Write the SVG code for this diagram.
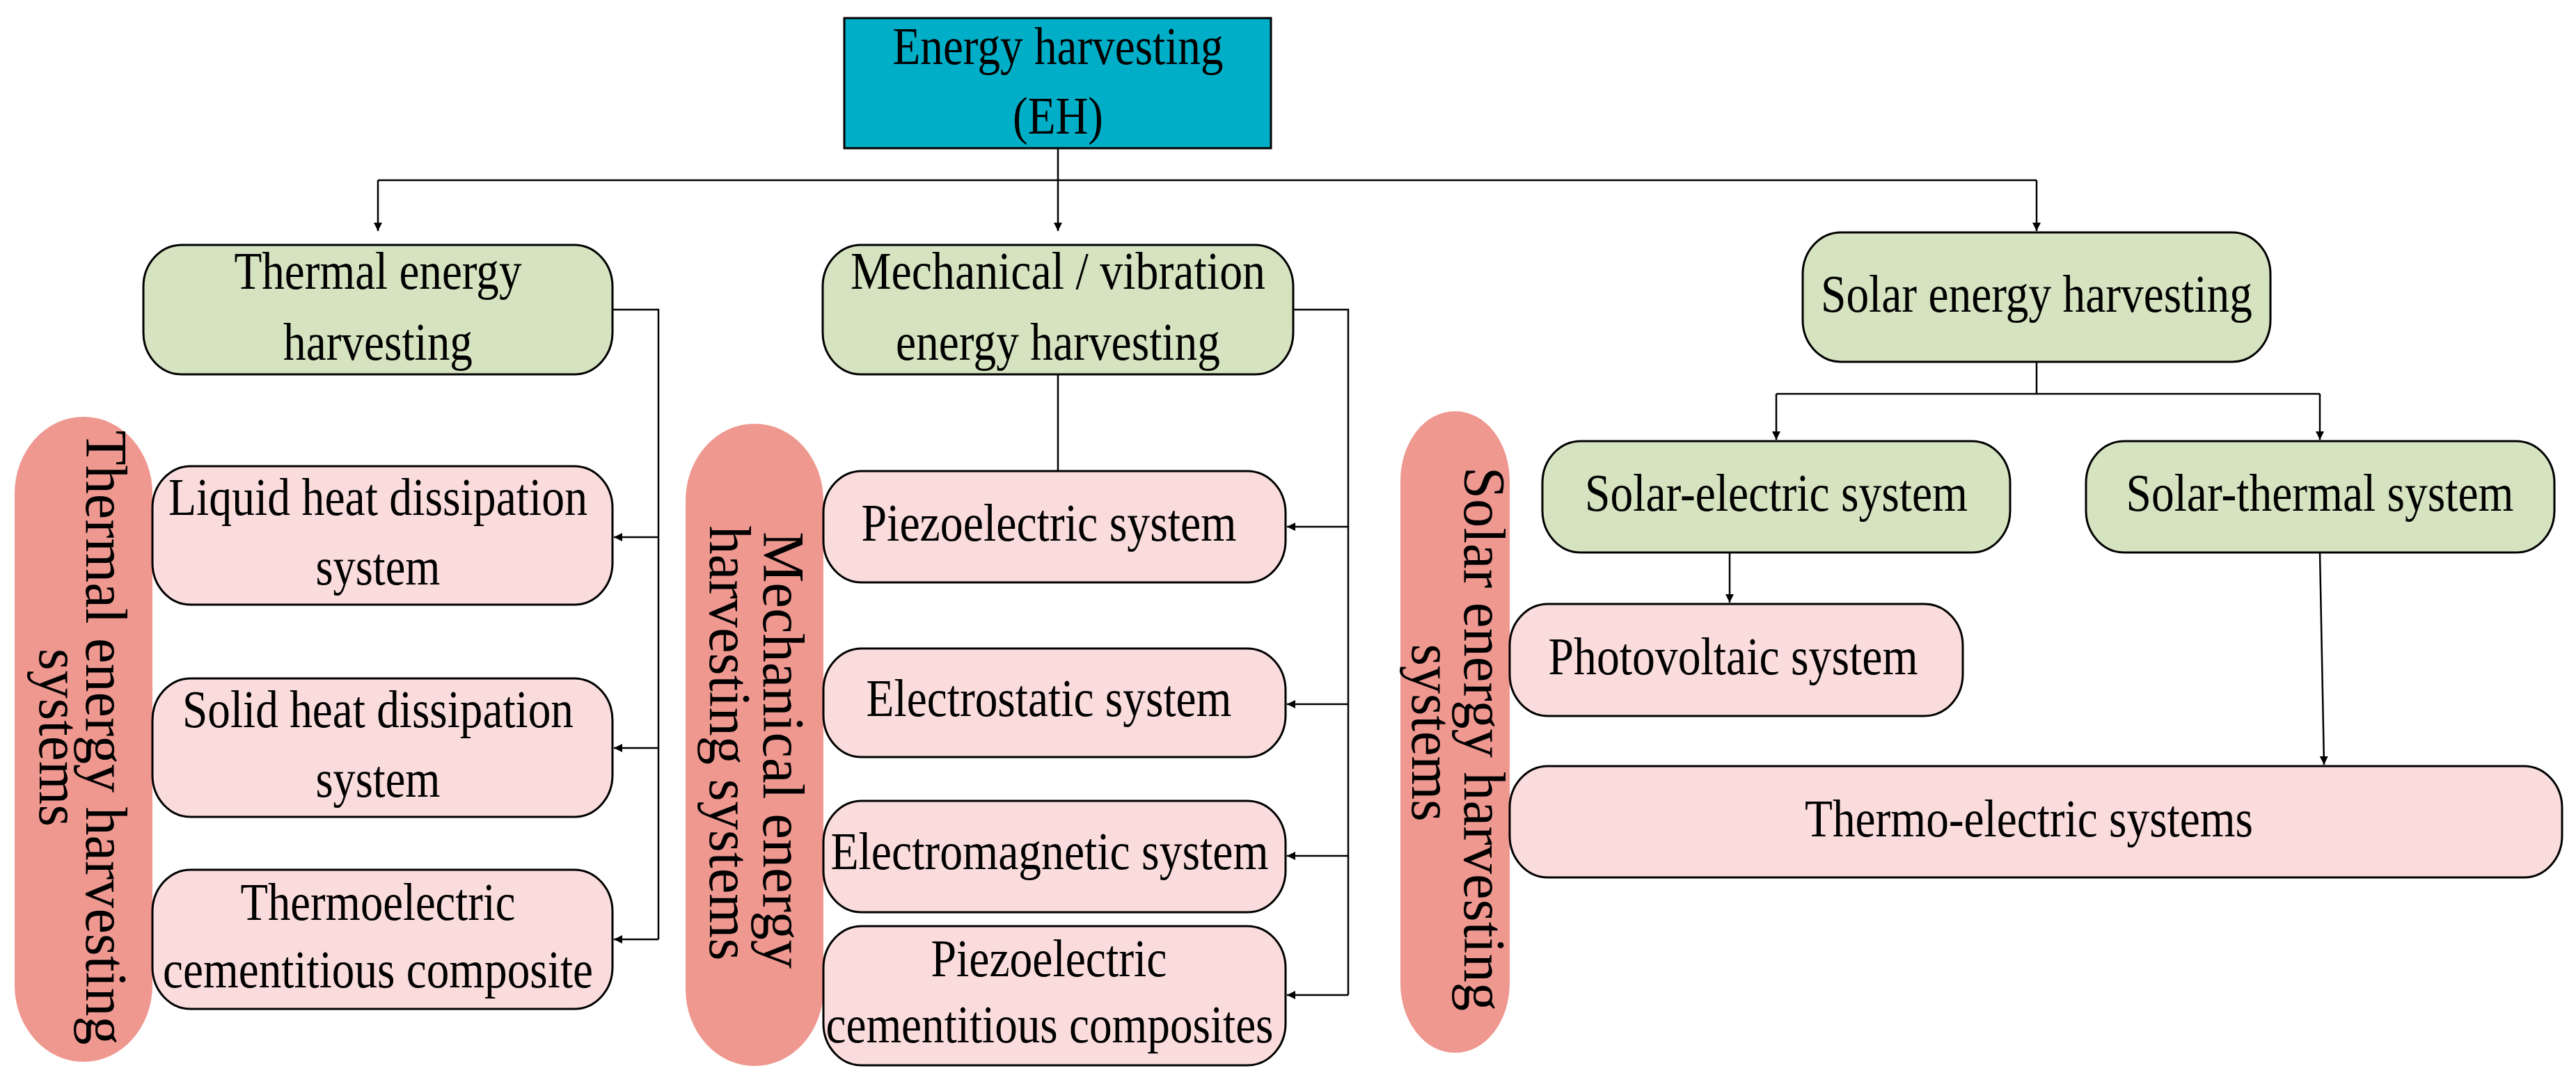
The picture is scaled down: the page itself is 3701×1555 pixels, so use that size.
<svg xmlns="http://www.w3.org/2000/svg" width="3701" height="1555" viewBox="0 0 3701 1555">
<defs>
<marker id="ar" viewBox="0 0 10 10" refX="10" refY="5" markerWidth="12" markerHeight="18" markerUnits="userSpaceOnUse" orient="auto"><path d="M0,0 L10,5 L0,10 Z" fill="#000"/></marker>
<style>
text{font-family:"Liberation Serif","Times New Roman",serif;fill:#000}
.h{font-size:76px;text-anchor:middle}
.v{font-size:84px;text-anchor:middle}
.g{fill:#D5E3C0;stroke:#000;stroke-width:3}
.p{fill:#F9DCDB;stroke:#000;stroke-width:3}
.t{fill:#EE9890}
.c{fill:none;stroke:#000;stroke-width:2.5}
.ca{fill:none;stroke:#000;stroke-width:2.5;marker-end:url(#ar)}
</style>
</defs>
<rect width="3701" height="1555" fill="#fff"/>
<g id="connectors">
<path class="c" d="M1520,213 V259 M543,259 H2926"/>
<path class="ca" d="M543,259 V332"/>
<path class="ca" d="M1520,259 V332"/>
<path class="ca" d="M2926,259 V332"/>
<path class="c" d="M880,445 H946 V1350"/>
<path class="ca" d="M946,772 H882"/>
<path class="ca" d="M946,1075 H882"/>
<path class="ca" d="M946,1350 H882"/>
<path class="c" d="M1520,538 V677"/>
<path class="c" d="M1858,445 H1937 V1430"/>
<path class="ca" d="M1937,757 H1849"/>
<path class="ca" d="M1937,1012 H1849"/>
<path class="ca" d="M1937,1230 H1849"/>
<path class="ca" d="M1937,1430 H1849"/>
<path class="c" d="M2926,520 V566 M2552,566 H3333"/>
<path class="ca" d="M2552,566 V632"/>
<path class="ca" d="M3333,566 V632"/>
<path class="ca" d="M2485,794 V866"/>
<path class="ca" d="M3333,794 L3339,1099"/>
</g>
<g id="eh"><rect x="1213" y="26" width="613" height="187" fill="#00AEC7" stroke="#000" stroke-width="3"/>
<text class="h" x="1520" y="92" textLength="475" lengthAdjust="spacingAndGlyphs">Energy harvesting</text>
<text class="h" x="1520" y="192" textLength="130" lengthAdjust="spacingAndGlyphs">(EH)</text></g>
<g id="thermal"><rect class="g" x="206" y="352" width="674" height="186" rx="55" ry="60"/>
<text class="h" x="543" y="415" textLength="413" lengthAdjust="spacingAndGlyphs">Thermal energy</text>
<text class="h" x="543" y="517" textLength="272" lengthAdjust="spacingAndGlyphs">harvesting</text></g>
<g id="mech"><rect class="g" x="1182" y="352" width="676" height="186" rx="55" ry="60"/>
<text class="h" x="1520" y="415" textLength="596" lengthAdjust="spacingAndGlyphs">Mechanical / vibration</text>
<text class="h" x="1520" y="517" textLength="466" lengthAdjust="spacingAndGlyphs">energy harvesting</text></g>
<g id="solar"><rect class="g" x="2590" y="334" width="672" height="186" rx="55" ry="60"/>
<text class="h" x="2926" y="448" textLength="620" lengthAdjust="spacingAndGlyphs">Solar energy harvesting</text></g>
<g id="tag-thermal"><rect class="t" x="21" y="599" width="198" height="927" rx="99" ry="110"/>
<text class="v" transform="translate(124,1060) rotate(90)" textLength="883" lengthAdjust="spacingAndGlyphs">Thermal energy harvesting</text>
<text class="v" transform="translate(57,1060) rotate(90)" textLength="256" lengthAdjust="spacingAndGlyphs">systems</text></g>
<g id="tag-mech"><rect class="t" x="985" y="609" width="198" height="923" rx="99" ry="110"/>
<text class="v" transform="translate(1097,1078) rotate(90)" textLength="628" lengthAdjust="spacingAndGlyphs">Mechanical energy</text>
<text class="v" transform="translate(1020,1068) rotate(90)" textLength="625" lengthAdjust="spacingAndGlyphs">harvesting systems</text></g>
<g id="tag-solar"><rect class="t" x="2012" y="591" width="157" height="922" rx="78" ry="100"/>
<text class="v" transform="translate(2104,1062) rotate(90)" textLength="782" lengthAdjust="spacingAndGlyphs">Solar energy harvesting</text>
<text class="v" transform="translate(2029,1053) rotate(90)" textLength="255" lengthAdjust="spacingAndGlyphs">systems</text></g>
<g id="liquid"><rect class="p" x="219" y="670" width="661" height="199" rx="55" ry="60"/>
<text class="h" x="543" y="740" textLength="602" lengthAdjust="spacingAndGlyphs">Liquid heat dissipation</text>
<text class="h" x="543" y="840" textLength="179" lengthAdjust="spacingAndGlyphs">system</text></g>
<g id="solid"><rect class="p" x="219" y="975" width="661" height="199" rx="55" ry="60"/>
<text class="h" x="543" y="1045" textLength="562" lengthAdjust="spacingAndGlyphs">Solid heat dissipation</text>
<text class="h" x="543" y="1145" textLength="179" lengthAdjust="spacingAndGlyphs">system</text></g>
<g id="thermoelectric"><rect class="p" x="219" y="1250" width="661" height="200" rx="55" ry="60"/>
<text class="h" x="543" y="1322" textLength="395" lengthAdjust="spacingAndGlyphs">Thermoelectric</text>
<text class="h" x="543" y="1419" textLength="618" lengthAdjust="spacingAndGlyphs">cementitious composite</text></g>
<g id="piezo"><rect class="p" x="1183" y="677" width="664" height="160" rx="55" ry="60"/>
<text class="h" x="1507" y="777" textLength="539" lengthAdjust="spacingAndGlyphs">Piezoelectric system</text></g>
<g id="electrostatic"><rect class="p" x="1183" y="932" width="664" height="156" rx="55" ry="60"/>
<text class="h" x="1507" y="1029" textLength="525" lengthAdjust="spacingAndGlyphs">Electrostatic system</text></g>
<g id="electromagnetic"><rect class="p" x="1183" y="1151" width="664" height="160" rx="55" ry="60"/>
<text class="h" x="1508" y="1249" textLength="629" lengthAdjust="spacingAndGlyphs">Electromagnetic system</text></g>
<g id="piezocomp"><rect class="p" x="1183" y="1331" width="664" height="200" rx="55" ry="60"/>
<text class="h" x="1507" y="1403" textLength="339" lengthAdjust="spacingAndGlyphs">Piezoelectric</text>
<text class="h" x="1508" y="1498" textLength="643" lengthAdjust="spacingAndGlyphs">cementitious composites</text></g>
<g id="solar-electric"><rect class="g" x="2216" y="634" width="672" height="160" rx="55" ry="60"/>
<text class="h" x="2552" y="734" textLength="550" lengthAdjust="spacingAndGlyphs">Solar-electric system</text></g>
<g id="solar-thermal"><rect class="g" x="2997" y="634" width="673" height="160" rx="55" ry="60"/>
<text class="h" x="3333" y="734" textLength="557" lengthAdjust="spacingAndGlyphs">Solar-thermal system</text></g>
<g id="pv"><rect class="p" x="2169" y="868" width="651" height="161" rx="55" ry="60"/>
<text class="h" x="2490" y="969" textLength="531" lengthAdjust="spacingAndGlyphs">Photovoltaic system</text></g>
<g id="thermo-electric"><rect class="p" x="2169" y="1101" width="1512" height="160" rx="55" ry="60"/>
<text class="h" x="2915" y="1202" textLength="644" lengthAdjust="spacingAndGlyphs">Thermo-electric systems</text></g>
</svg>
